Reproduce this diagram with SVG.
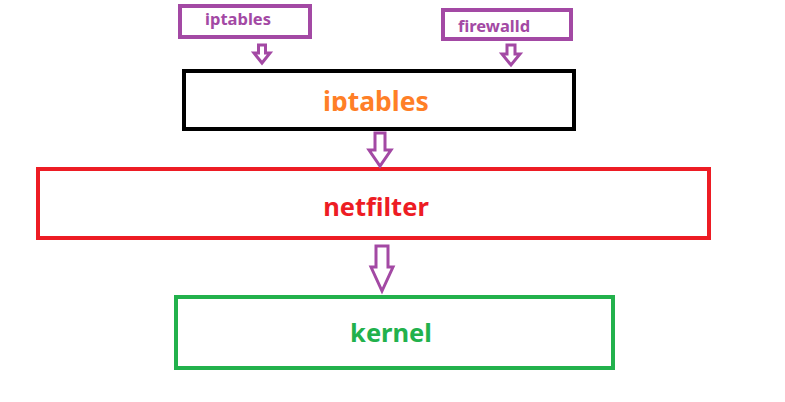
<svg xmlns="http://www.w3.org/2000/svg" width="785" height="402" viewBox="0 0 785 402">
<style>
text{font-family:"Noto Sans","Open Sans","DejaVu Sans",sans-serif;font-weight:bold;text-anchor:middle}
.box{fill:#fff;stroke-width:4}
.arr{fill:#fff;stroke:#a349a4;stroke-width:3;stroke-linejoin:miter}
</style>
<defs>
<clipPath id="clipIpt"><rect x="184" y="71" width="390" height="40"/></clipPath>
</defs>
<rect width="785" height="402" fill="#fff"/>
<g id="src-iptables">
<rect class="box" x="180" y="6" width="130" height="31" stroke="#a349a4"/>
<text x="238" y="25" font-size="16.5" fill="#a349a4">iptables</text>
</g>
<g id="src-firewalld">
<rect class="box" x="443" y="10" width="128" height="29" stroke="#a349a4"/>
<text x="494" y="32" font-size="16.5" fill="#a349a4">firewalld</text>
</g>
<g id="iptables">
<rect class="box" x="184" y="71" width="390" height="58" stroke="#000"/>
<text x="376" y="111" font-size="26.5" fill="#ff7f27" clip-path="url(#clipIpt)">iptables</text>
</g>
<g id="netfilter">
<rect class="box" x="38" y="169" width="671" height="69" stroke="#ed1c24"/>
<text x="376" y="216" font-size="25.5" fill="#ed1c24">netfilter</text>
</g>
<g id="kernel">
<rect class="box" x="176" y="297" width="437" height="71" stroke="#22b14c"/>
<text x="391" y="342" font-size="25.5" fill="#22b14c">kernel</text>
</g>
<g id="connectors">
<path class="arr" d="M258.500,45 H265.500 V53 H270 L262,63 L254,53 H258.500 Z"/>
<path class="arr" d="M507,45 H515 V54 H520 L511,65 L502,54 H507 Z"/>
<path class="arr" d="M375,133 H385 V150 H391 L380,166 L369,150 H375 Z"/>
<path class="arr" d="M376,246 H388 V267 H393 L382,291 L371,267 H376 Z"/>
</g>
</svg>
